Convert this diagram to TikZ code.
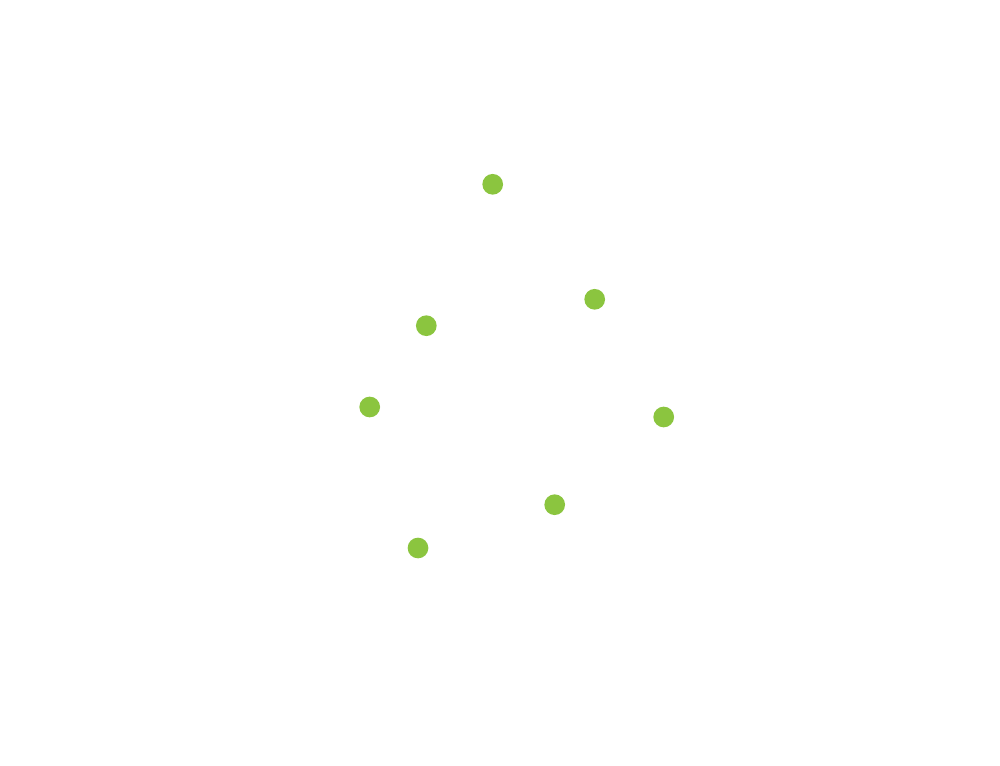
\documentclass[tikz,border=0pt]{standalone}
\definecolor{dotgreen}{HTML}{8BC53F}
\tikzset{gdot/.style={circle,fill=dotgreen,draw=none,inner sep=0pt,minimum size=0.414cm}}
\begin{document}
\begin{tikzpicture}[x=0.02cm,y=-0.02cm]
\useasboundingbox (0,0) rectangle (1000,766);
\fill[white] (0,0) rectangle (1000,766);
\node[gdot] (d1) at (492.7,184.3) {};
\node[gdot] (d2) at (594.7,299.3) {};
\node[gdot] (d3) at (426.3,325.7) {};
\node[gdot] (d4) at (369.7,407) {};
\node[gdot] (d5) at (663.7,417) {};
\node[gdot] (d6) at (554.7,504.7) {};
\node[gdot] (d7) at (418,548) {};
\end{tikzpicture}
\end{document}
